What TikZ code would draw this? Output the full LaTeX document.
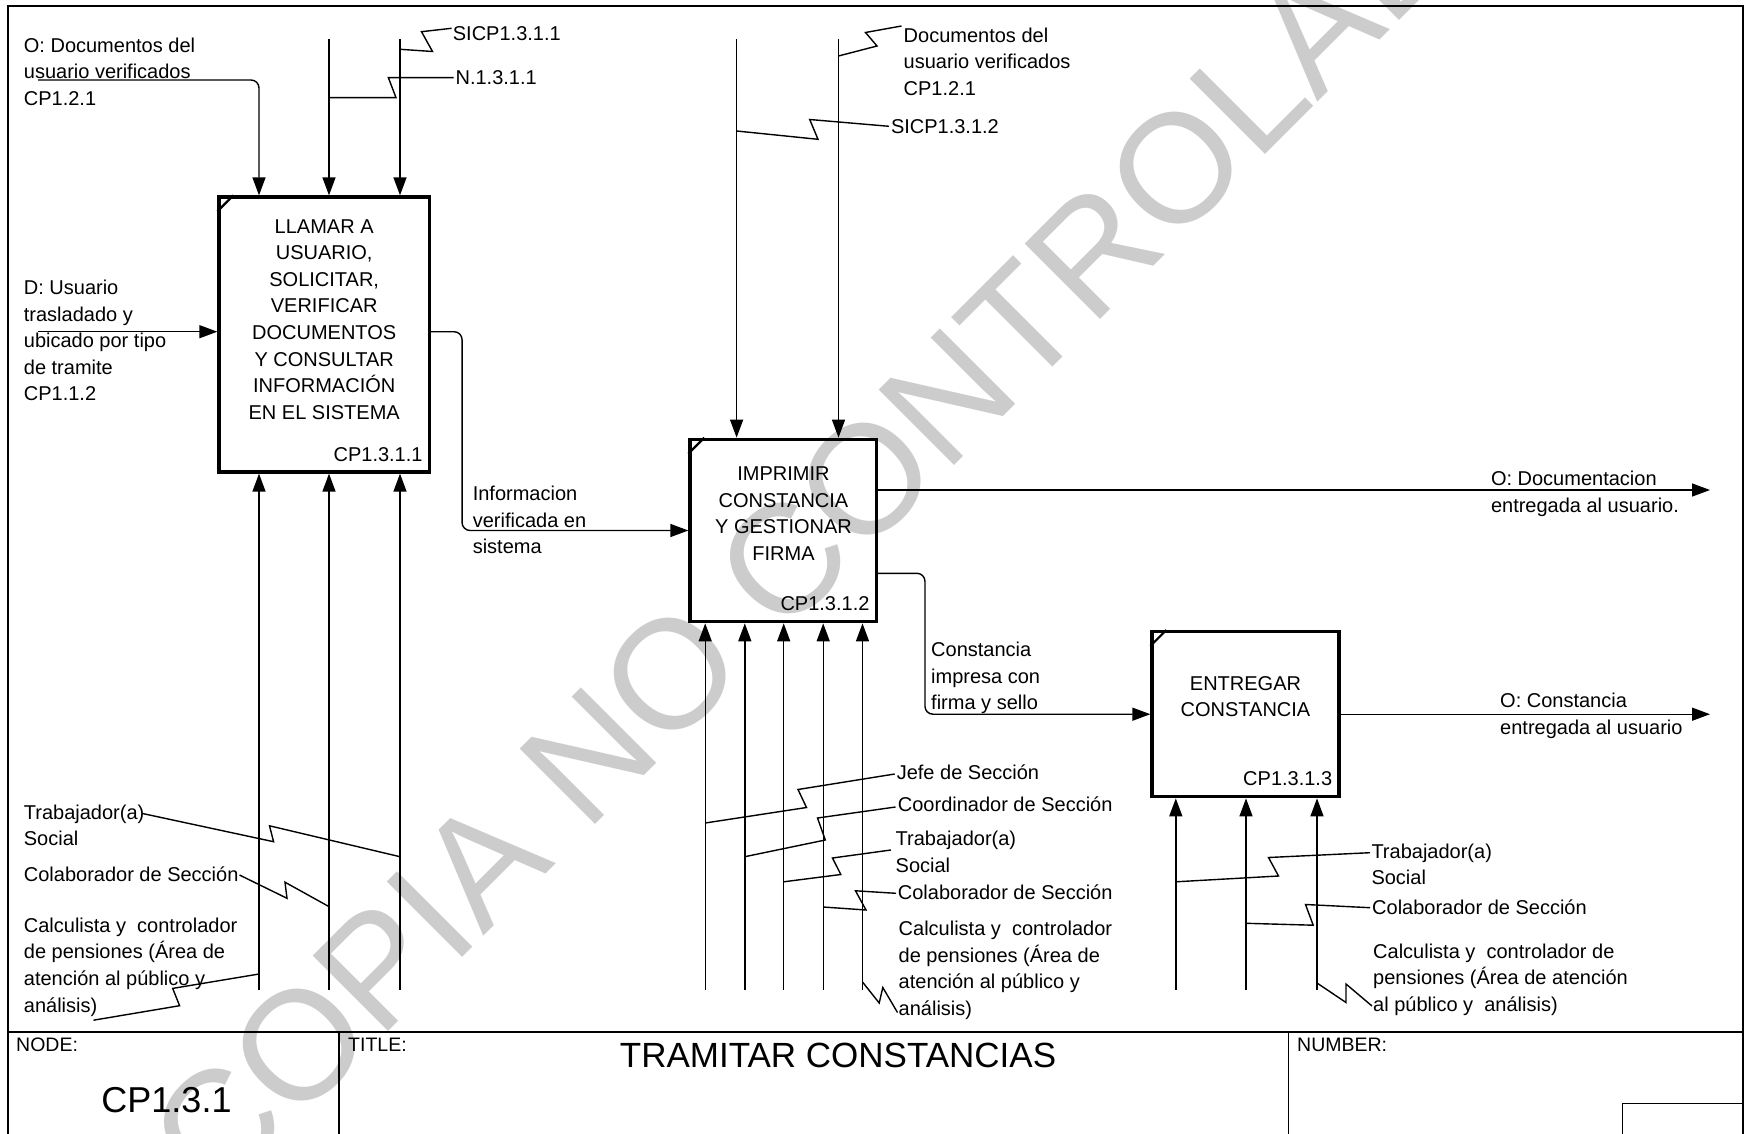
\documentclass[tikz,border=0pt]{standalone}
\usepackage{fontspec}
\setmainfont{Liberation Sans}
\usetikzlibrary{arrows.meta,calc}
\begin{document}
\begin{tikzpicture}[x=1pt,y=-1pt,
  thinln/.style={line width=1.4pt},
  arr/.style={line width=1.4pt,-{Triangle[length=18pt,width=13pt]}},
  box/.style={draw,line width=3.3pt,inner sep=0pt,rectangle},
  cornermark/.style={line width=2.2pt},
  lbl/.style={font=\fontsize{20}{26.6}\selectfont,inner sep=0pt,align=left,anchor=north west},
  lblw/.style={font=\fontsize{20}{26.6}\selectfont,inner sep=0pt,anchor=west},
  boxtxt/.style={font=\fontsize{20}{26.6}\selectfont,inner sep=0pt,align=center},
  boxid/.style={font=\fontsize{20}{24}\selectfont,inner sep=0pt,anchor=east},
  small/.style={font=\fontsize{19.5}{24}\selectfont,inner sep=0pt,anchor=west},
  wmark/.style={text=black!20,font=\fontsize{155}{155}\selectfont,inner sep=0pt}
]
\useasboundingbox (0,0) rectangle (1745,1134);

% watermark
\node[wmark,rotate=45,anchor=base west] (wm) at (215,1205) {COPIA NO CONTROLADA};

% frame and title block
\draw[line width=2pt] (7.5,1134) -- (7.5,6.5) -- (1743,6.5) -- (1743,1134);
\draw[line width=1.6pt] (7.5,1031.7) -- (1743,1031.7);
\draw[line width=1.6pt] (338.7,1031.7) -- (338.7,1134);
\draw[line width=1.6pt] (1288.5,1031.7) -- (1288.5,1134);
\draw[line width=1.6pt] (1622.5,1134) -- (1622.5,1103.3) -- (1743,1103.3);
\node[small] (nodel) at (16,1045) {NODE:};
\node[small] (titlel) at (348,1045) {TITLE:};
\node[small] (numberl) at (1297,1045) {NUMBER:};
\node[inner sep=0pt,font=\fontsize{36}{40}\selectfont] (nodeid) at (166.5,1100) {CP1.3.1};
\node[inner sep=0pt,font=\fontsize{35}{40}\selectfont] (title) at (838,1055) {TRAMITAR CONSTANCIAS};

% boxes
\node[box,minimum width=210.4pt,minimum height=275pt] (b1) at (324.2,334.5) {};
\node[box,minimum width=186.3pt,minimum height=182.4pt] (b2) at (783.15,530.5) {};
\node[box,minimum width=187pt,minimum height=165pt] (b3) at (1245.5,714.2) {};
\foreach \b in {b1,b2,b3}{
  \draw[cornermark] ([yshift=-16pt]\b.north west) -- ([xshift=16pt]\b.north west);
}
\node[boxtxt] (t1) at (324.2,319.5) {LLAMAR A\\USUARIO,\\SOLICITAR,\\VERIFICAR\\DOCUMENTOS\\Y CONSULTAR\\INFORMACIÓN\\EN EL SISTEMA};
\node[boxtxt] (t2) at (783.5,513.7) {IMPRIMIR\\CONSTANCIA\\Y GESTIONAR\\FIRMA};
\node[boxtxt] (t3) at (1245.5,696.7) {ENTREGAR\\CONSTANCIA};
\node[boxid] (id1) at ($(b1.south east)+(-8.3,-19.3)$) {CP1.3.1.1};
\node[boxid] (id2) at ($(b2.south east)+(-8.3,-19.3)$) {CP1.3.1.2};
\node[boxid] (id3) at ($(b3.south east)+(-8.3,-19.3)$) {CP1.3.1.3};

% free ends
\coordinate (i1) at (38,80);
\coordinate (c12) at (329,39);
\coordinate (c13) at (400,39);
\coordinate (i2) at (38,331.7);
\coordinate (m11) at (259,990);
\coordinate (m12) at (329,990);
\coordinate (m13) at (400,990);
\coordinate (c21) at (736.6,39);
\coordinate (c22) at (838.5,39);
\coordinate (m21) at (705.2,990);
\coordinate (m22) at (744.8,990);
\coordinate (m23) at (783.7,990);
\coordinate (m24) at (823.2,990);
\coordinate (m25) at (862.5,990);
\coordinate (m31) at (1175.8,990);
\coordinate (m32) at (1246,990);
\coordinate (m33) at (1317,990);
\coordinate (o1) at (1710,490);
\coordinate (b1o) at ($(b1.north east)+(0,136.35)$);
\coordinate (b2o1) at ($(b2.north east)+(0,52.35)$);
\coordinate (b2o2) at ($(b2.north east)+(0,135.65)$);

% box 1 connectors
\draw[arr,rounded corners=8pt] (i1) -| ($(b1.north west)+(41.65,0)$);
\draw[arr] (c12) -- (c12 |- b1.north);
\draw[arr] (c13) -- (c13 |- b1.north);
\draw[arr] (i2) -- (i2 -| b1.west);
\foreach \m in {m11,m12,m13}{ \draw[arr] (\m) -- (\m |- b1.south); }
\draw[arr,rounded corners=8pt] (b1o) -- ++(31,0) |- (b2.west);

% box 2 connectors
\draw[arr] (c21) -- (c21 |- b2.north);
\draw[arr] (c22) -- (c22 |- b2.north);
\foreach \m in {m21,m22,m23,m24,m25}{ \draw[arr] (\m) -- (\m |- b2.south); }
\draw[arr] (b2o1) -- (b2o1 -| o1);
\draw[arr,rounded corners=8pt] (b2o2) -- ++(47,0) |- (b3.west);

% box 3 connectors
\foreach \m in {m31,m32,m33}{ \draw[arr] (\m) -- (\m |- b3.south); }
\draw[arr] (b3.east) -- (b3.east -| o1);

% squiggles
\draw[thinln] (400,49.3) -- (432.5,51.5) -- (421.5,31.7) -- (451.6,28.3);
\draw[thinln] (329,97.7) -- (396,97.7) -- (388.4,77.7) -- (453.5,77.7);
\draw[thinln] (838.5,56) -- (877,46) -- (865.5,32.5) -- (901.5,26);
\draw[thinln] (736.6,131) -- (818,139.3) -- (809.7,119.5) -- (889,126.3);
\draw[thinln] (141.6,813.3) -- (273.6,841.7) -- (269.5,825.8) -- (400,856.7);
\draw[thinln] (239.5,875) -- (287,898.3) -- (285,882.2) -- (329,906.6);
\draw[thinln] (259,974) -- (172.7,988.4) -- (179.6,1005.7) -- (93.5,1020.2);
\draw[thinln] (894.7,774) -- (798,789.5) -- (806.5,807.5) -- (705.2,823);
\draw[thinln] (895.5,807) -- (817.5,818) -- (825.3,840) -- (744.8,856.7);
\draw[thinln] (890.9,850) -- (832.5,858) -- (840.8,874.5) -- (783.7,881.8);
\draw[thinln] (896,893.3) -- (855.5,890.8) -- (866,910) -- (823.2,907);
\draw[thinln] (862.5,982) -- (879.2,1003) -- (882.8,987.5) -- (897.5,1012.5);
\draw[thinln] (1370,852.7) -- (1268.5,857.5) -- (1278.5,876) -- (1175.8,881.8);
\draw[thinln] (1370,907.7) -- (1305.5,904.5) -- (1313.2,925.2) -- (1246,923.3);
\draw[thinln] (1317,983) -- (1346,1002.5) -- (1346,984) -- (1372,1006);

% labels
\node[lbl] (lO1) at (23.7,37.6) {O: Documentos del\\usuario verificados\\CP1.2.1};
\node[lbl] (lD1) at (23.7,279.9) {D: Usuario\\trasladado y\\ubicado por tipo\\de tramite\\CP1.1.2};
\node[lblw] (lSI1) at (452.7,33.3) {SICP1.3.1.1};
\node[lblw] (lN1) at (455.4,77.7) {N.1.3.1.1};
\node[lbl] (lDoc2) at (903.5,27.6) {Documentos del\\usuario verificados\\CP1.2.1};
\node[lblw] (lSI2) at (890.8,126.7) {SICP1.3.1.2};
\node[lbl] (lInf) at (472.6,485.9) {Informacion\\verificada en\\sistema};
\node[lbl] (lOD) at (1490.8,470.9) {O: Documentacion\\entregada al usuario.};
\node[lbl] (lCons) at (931,641.9) {Constancia\\impresa con\\firma y sello};
\node[lbl] (lOC) at (1500,693.3) {O: Constancia\\entregada al usuario};
\node[lbl] (lTS1) at (23.7,804.3) {Trabajador(a)\\Social};
\node[lbl] (lCS1) at (23.7,866.6) {Colaborador de Sección};
\node[lbl] (lCal1) at (23.7,917.6) {Calculista y~ controlador\\de pensiones (Área de\\atención al público y\\análisis)};
\node[lbl] (lJefe) at (896.6,765) {Jefe de Sección};
\node[lbl] (lCoord) at (897.7,796.6) {Coordinador de Sección};
\node[lbl] (lTS2) at (895.5,830.9) {Trabajador(a)\\Social};
\node[lbl] (lCS2) at (897.7,885) {Colaborador de Sección};
\node[lbl] (lCal2) at (898.5,920.9) {Calculista y~ controlador\\de pensiones (Área de\\atención al público y\\análisis)};
\node[lbl] (lTS3) at (1371.3,843.6) {Trabajador(a)\\Social};
\node[lbl] (lCS3) at (1372,899.3) {Colaborador de Sección};
\node[lbl] (lCal3) at (1373,943.6) {Calculista y~ controlador de\\pensiones (Área de atención\\al público y~ análisis)};
\end{tikzpicture}
\end{document}
